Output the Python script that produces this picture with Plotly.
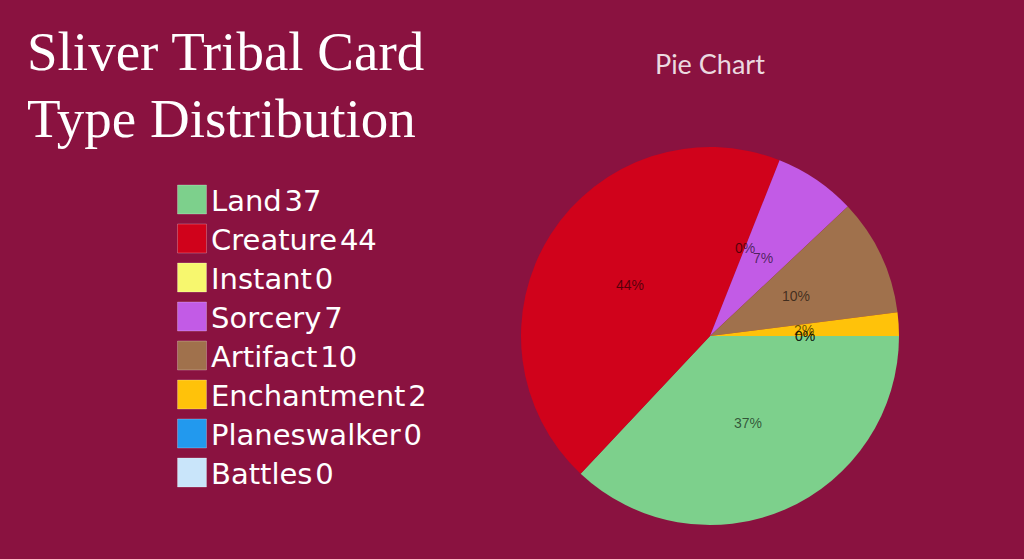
import math
import plotly.graph_objects as go

categories = ["Land", "Creature", "Instant", "Sorcery", "Artifact", "Enchantment", "Planeswalker", "Battles"]
counts = [37, 44, 0, 7, 10, 2, 0, 0]
colors = ["#7DD08C", "#D0021B", "#F7F76E", "#C25BE6", "#A0714C", "#FFC20A", "#2299EE", "#C9E5FA"]

BG = "#8A1240"
W, H = 1024, 559
PIE_X = [521 / W, 899 / W]
PIE_Y = [34 / H, 412 / H]

fig = go.Figure()
fig.add_trace(go.Pie(
    labels=categories, values=counts, sort=False, direction="clockwise", rotation=90,
    marker=dict(colors=colors, line=dict(width=0)),
    textinfo="none", showlegend=False, hoverinfo="label+value+percent",
    domain=dict(x=PIE_X, y=PIE_Y),
))

shapes = []
annotations = []

# Percentage labels at mid-radius of each slice (datalabels style), placed on an
# invisible axis that shares the pie's domain (range -1..1 = pie radius)
total = sum(counts)
cum = 0
for v in counts:
    mid = (cum + v / 2) / total
    ang = -2 * math.pi * mid
    annotations.append(dict(xref="x", yref="y", x=0.5 * math.cos(ang), y=0.5 * math.sin(ang),
                            xanchor="center", yanchor="middle", showarrow=False,
                            text=f"{round(100 * v / total)}%",
                            font=dict(family="Liberation Sans, Arial", size=14, color="rgba(0,0,0,0.6)")))
    cum += v

# Custom legend
x0, top, sq, step = 177.5, 185, 29, 39
for i, (c, v, col) in enumerate(zip(categories, counts, colors)):
    y_top = top + i * step
    shapes.append(dict(type="rect", xref="paper", yref="paper",
                       x0=x0 / W, x1=(x0 + sq) / W,
                       y0=1 - (y_top + sq) / H, y1=1 - y_top / H,
                       fillcolor=col, line=dict(width=1, color="rgba(255,255,255,0.25)")))
    annotations.append(dict(xref="paper", yref="paper", x=(x0 + sq + 2) / W, y=1 - (y_top + sq / 2 + 1) / H,
                            xanchor="left", yanchor="middle", showarrow=False,
                            text=f"{c}\u200a{v}",
                            font=dict(family="DejaVu Sans", size=29, color="white")))

# Title
for j, line in enumerate(["Sliver Tribal Card", "Type Distribution"]):
    annotations.append(dict(xref="paper", yref="paper", x=25 / W, y=1 - (52 + 66 * j) / H,
                            xanchor="left", yanchor="middle", showarrow=False,
                            text=line, font=dict(family="Liberation Serif", size=55, color="white")))
annotations.append(dict(xref="paper", yref="paper", x=710 / W, y=1 - 64 / H, xanchor="center", yanchor="middle",
                        showarrow=False, text="Pie Chart",
                        font=dict(family="Lato", size=27, color="rgba(255,255,255,0.85)")))

fig.update_layout(
    width=W, height=H, margin=dict(l=0, r=0, t=0, b=0),
    paper_bgcolor=BG, plot_bgcolor="rgba(0,0,0,0)", shapes=shapes, annotations=annotations,
    xaxis=dict(domain=PIE_X, range=[-1, 1], visible=False, fixedrange=True),
    yaxis=dict(domain=PIE_Y, range=[-1, 1], visible=False, fixedrange=True),
)
fig.write_html("out.html", config=dict(displayModeBar=False),
               post_script="document.body.style.margin='0';document.body.style.background='" + BG + "';")
